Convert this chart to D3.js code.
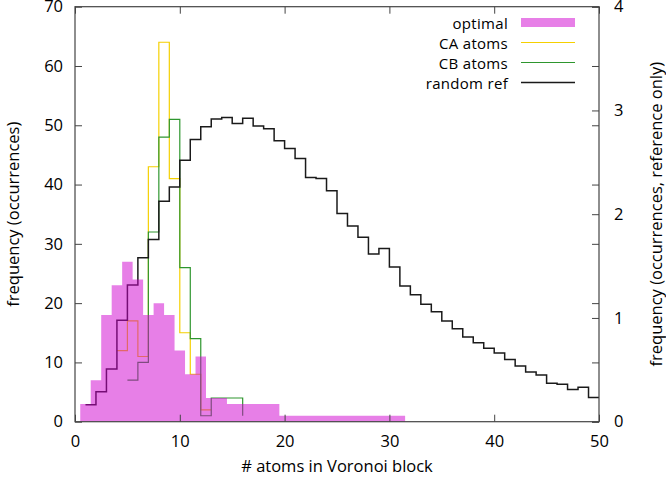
<!DOCTYPE html>
<html><head><meta charset="utf-8">
<script src="https://cdn.jsdelivr.net/npm/d3@7"></script>
<style>
body{margin:0;background:#fff}
text{font-family:"Open Sans",sans-serif;font-size:16.5px;fill:#000}
</style>
</head><body><svg id="c" width="666" height="478"></svg>
<script>
// ---- data ----
const optimalX = d3.range(1, 32);
const optimalValues = [3,7,18,23,27,24,18,20,18,12,8,11,4,4,3,3,3,3,3,1,1,1,1,1,1,1,1,1,1,1,1];
const caX = [4,5,6,7,8,9,10,11,12,13];
const caValues = [12,17,11,43,64,41,15,8,2,2];
const cbX = [5,6,7,8,9,10,11,12,13,14,15,16];
const cbValues = [7,10,32,48,51,26,14,1,4,4,4,1];
const refX = d3.range(1, 51);
const refValues = [0.163,0.289,0.507,0.977,1.317,1.581,1.757,2.126,2.263,2.52,
  2.72,2.843,2.917,2.931,2.874,2.926,2.851,2.823,2.709,2.634,
  2.537,2.354,2.343,2.226,2.006,1.886,1.777,1.617,1.669,1.491,
  1.309,1.223,1.131,1.06,0.971,0.897,0.817,0.76,0.709,0.663,
  0.6,0.537,0.48,0.451,0.371,0.36,0.311,0.331,0.234,0.234];
const xTicks = [0,10,20,30,40,50];
const yTicks = [0,10,20,30,40,50,60,70];
const y2Ticks = [0,1,2,3,4];
const seriesNames = ["optimal","CA atoms","CB atoms","random ref"];
const xTitle = "# atoms in Voronoi block";
const yTitle = "frequency (occurrences)";
const y2Title = "frequency (occurrences, reference only)";

// ---- layout ----
const mL = 75, mR = 599, mT = 6.7, mB = 421.7;
const svg = d3.select("#c");
const x = d3.scaleLinear().domain([0,50]).range([mL,mR]);
const y = d3.scaleLinear().domain([0,70]).range([mB,mT]);
const y2 = d3.scaleLinear().domain([0,4]).range([mB,mT]);

const colors = {opt:"#d000d0", ca:"#f5d000", cb:"#2e962e", ref:"#1a1a1a"};

svg.append("clipPath").attr("id","clip").append("rect")
  .attr("x",mL).attr("y",mT).attr("width",mR-mL).attr("height",mB-mT);
const plot = svg.append("g").attr("clip-path","url(#clip)");

const stepLine = (xs, ys, sc) => d3.line()
  .x((d,i)=>x(xs[i])).y(d=>sc(d)).curve(d3.curveStepAfter)(ys);

plot.append("path").attr("d", stepLine(caX, caValues, y))
  .attr("fill","none").attr("stroke",colors.ca).attr("stroke-width",1.2);
plot.append("path").attr("d", stepLine(cbX, cbValues, y))
  .attr("fill","none").attr("stroke",colors.cb).attr("stroke-width",1.2);
plot.append("path").attr("d", stepLine(refX, refValues, y2))
  .attr("fill","none").attr("stroke",colors.ref).attr("stroke-width",1.5);

// boxes (semi-transparent, drawn on top)
const areaPts = [];
optimalX.forEach((n,i)=>{ areaPts.push([n-0.5, optimalValues[i]]); areaPts.push([n+0.5, optimalValues[i]]); });
plot.append("path")
  .attr("d", d3.area().x(d=>x(d[0])).y0(mB).y1(d=>y(d[1]))(areaPts))
  .attr("fill",colors.opt).attr("fill-opacity",0.5);

// ---- axes ----
const axisCol = "#444";
const ax = svg.append("g");
ax.append("g").attr("transform",`translate(0,${mB})`)
  .call(d3.axisBottom(x).tickValues(xTicks).tickSizeInner(-7).tickSizeOuter(0).tickPadding(14));
ax.append("g").attr("transform",`translate(0,${mT})`)
  .call(d3.axisTop(x).tickValues(xTicks).tickSizeInner(-7).tickSizeOuter(0).tickFormat(""));
ax.append("g").attr("transform",`translate(${mL},0)`)
  .call(d3.axisLeft(y).tickValues(yTicks).tickSizeInner(-7).tickSizeOuter(0).tickPadding(12));
ax.append("g").attr("transform",`translate(${mR},0)`)
  .call(d3.axisRight(y).tickValues(yTicks).tickSizeInner(-7).tickSizeOuter(0).tickFormat(""));
ax.append("g").attr("transform",`translate(${mR},0)`)
  .call(d3.axisRight(y2).tickValues(y2Ticks).tickFormat(d3.format("d")).tickSizeInner(-7).tickSizeOuter(0).tickPadding(15));
ax.selectAll(".domain").remove();
ax.selectAll(".tick line").attr("stroke",axisCol).attr("stroke-width",1);
ax.selectAll("text").attr("font-family",null).attr("font-size",null).attr("fill","#000");
svg.append("rect").attr("x",mL).attr("y",mT).attr("width",mR-mL).attr("height",mB-mT)
  .attr("fill","none").attr("stroke",axisCol).attr("stroke-width",1.2);

// ---- titles ----
svg.append("text").attr("x",(mL+mR)/2).attr("y",472).attr("text-anchor","middle").text(xTitle);
svg.append("text").attr("transform",`translate(12,${(mT+mB)/2}) rotate(-90)`)
  .attr("text-anchor","middle").attr("dominant-baseline","central").text(yTitle);
svg.append("text").attr("transform",`translate(655,${(mT+mB)/2}) rotate(-90)`)
  .attr("text-anchor","middle").attr("dominant-baseline","central").text(y2Title);

// ---- legend ----
const lg = svg.append("g");
const rowY = [22.5, 42.5, 62.5, 82.5];
seriesNames.forEach((name,i)=>{
  lg.append("text").attr("x",508).attr("y",rowY[i]+0.5).attr("text-anchor","end")
    .attr("dominant-baseline","central").style("font-size","15px")
    .style("letter-spacing","0.3px").text(name);
});
lg.append("rect").attr("x",521).attr("y",18).attr("width",54).attr("height",9)
  .attr("fill",colors.opt).attr("fill-opacity",0.5);
[[colors.ca,1],[colors.cb,1],[colors.ref,1.5]].forEach((c,i)=>{
  lg.append("line").attr("x1",521).attr("x2",575).attr("y1",rowY[i+1]).attr("y2",rowY[i+1])
    .attr("stroke",c[0]).attr("stroke-width",c[1]);
});
</script>
</body></html>
